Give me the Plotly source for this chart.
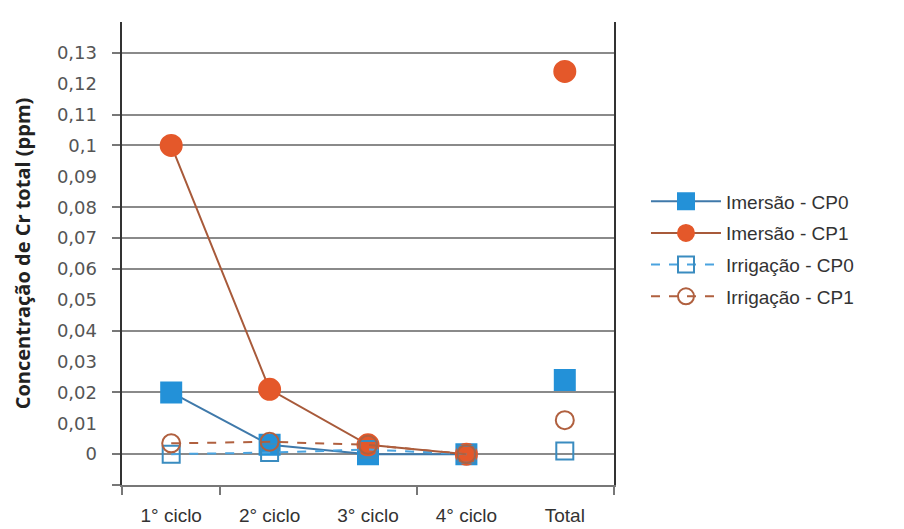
import plotly.graph_objects as go

categories = ["1° ciclo", "2° ciclo", "3° ciclo", "4° ciclo", "Total"]
imersao_cp0 = [0.02, 0.003, 0.0, 0.0, 0.024]
imersao_cp1 = [0.10, 0.021, 0.003, 0.0, 0.124]
irrigacao_cp0 = [0.0, 0.0005, 0.0015, 0.0, 0.001]
irrigacao_cp1 = [0.0035, 0.004, 0.003, 0.0, 0.011]

label_vals = [0, 0.01, 0.02, 0.03, 0.04, 0.05, 0.06, 0.07, 0.08, 0.09, 0.10, 0.11, 0.12, 0.13]
label_text = ["0", "0,01", "0,02", "0,03", "0,04", "0,05", "0,06", "0,07", "0,08",
              "0,09", "0,1", "0,11", "0,12", "0,13"]
grid_vals = [-0.01, 0, 0.02, 0.04, 0.06, 0.07, 0.08, 0.10, 0.11, 0.13]

BLUE = "#2391D8"
BLUE_LINE = "#3F79AA"
ORANGE = "#E4582A"
ORANGE_LINE = "#A85A3A"

series = [
    dict(name="Imersão - CP0", y=imersao_cp0, symbol="square", fill=BLUE, edge=BLUE,
         line=BLUE_LINE, dash="solid", size=20),
    dict(name="Imersão - CP1", y=imersao_cp1, symbol="circle", fill=ORANGE, edge=ORANGE,
         line=ORANGE_LINE, dash="solid", size=21),
    dict(name="Irrigação - CP0", y=irrigacao_cp0, symbol="square-open", fill=BLUE, edge="#3A8CC0",
         line="#4AA3DF", dash="dash", size=17),
    dict(name="Irrigação - CP1", y=irrigacao_cp1, symbol="circle-open", fill=ORANGE, edge="#B0603F",
         line="#B0603F", dash="dash", size=18),
]

fig = go.Figure()
for i, s in enumerate(series):
    mk = dict(symbol=s["symbol"], size=s["size"], color=s["edge"] if "open" in s["symbol"] else s["fill"],
              line=dict(width=2, color=s["edge"]))
    fig.add_trace(go.Scatter(
        x=categories[:4], y=s["y"][:4], mode="lines+markers", name=s["name"],
        legendgroup=f"g{i}",
        line=dict(color=s["line"], width=2, dash=s["dash"]), marker=mk,
        yaxis="y"))
    fig.add_trace(go.Scatter(
        x=categories[4:], y=s["y"][4:], mode="markers", name=s["name"],
        legendgroup=f"g{i}", showlegend=False, marker=mk, yaxis="y"))

fig.update_layout(
    width=904, height=529,
    margin=dict(l=122, r=290, t=22, b=44, autoexpand=False),
    paper_bgcolor="white", plot_bgcolor="white",
    font=dict(family="Liberation Sans, Arial, sans-serif", color="#333"),
    showlegend=True,
    legend=dict(x=1.065, y=0.51, xanchor="left", yanchor="middle",
                font=dict(size=19, color="#333"), itemwidth=70,
                tracegroupgap=4, bgcolor="rgba(0,0,0,0)"),
    xaxis=dict(type="category", categoryorder="array", categoryarray=categories,
               range=[-0.5, 4.5], showgrid=False, zeroline=False, automargin=False,
               showline=True, linecolor="#777", linewidth=1.5,
               ticks="", ticklabelstandoff=12,
               tickfont=dict(size=19, color="#333"),
               minor=dict(tickmode="array", tickvals=[-0.5, 0.5, 2.5, 4.5], ticks="outside",
                          ticklen=8, tickcolor="#777", tickwidth=1.5)),
    yaxis=dict(range=[-0.01, 0.14], tickmode="array", tickvals=grid_vals, automargin=False,
               showticklabels=False, showgrid=True, gridcolor="#8a8a8a", gridwidth=1.5,
               zeroline=False, showline=True, linecolor="#333", linewidth=1.5, mirror=True,
               ticks="outside", ticklen=8, tickcolor="#777", tickwidth=1.5),
    yaxis2=dict(range=[-0.01, 0.14], overlaying="y", side="left", anchor="x", automargin=False,
                tickmode="array", tickvals=label_vals, ticktext=label_text,
                showgrid=False, zeroline=False, showline=False, ticks="",
                ticklabelstandoff=24,
                tickfont=dict(family="DejaVu Sans, sans-serif", size=18, color="#555"),
                title=dict(text="<b>Concentração de Cr total (ppm)</b>", standoff=20,
                           font=dict(family="Open Sans, sans-serif", size=20, color="#222"))),
)
# invisible trace to activate the label axis
fig.add_trace(go.Scatter(x=[categories[0]], y=[0], yaxis="y2", mode="markers",
                         marker=dict(opacity=0), showlegend=False, hoverinfo="skip"))

fig.write_html("out.html", config={"displayModeBar": False},
               post_script="document.body.style.margin='0';")
